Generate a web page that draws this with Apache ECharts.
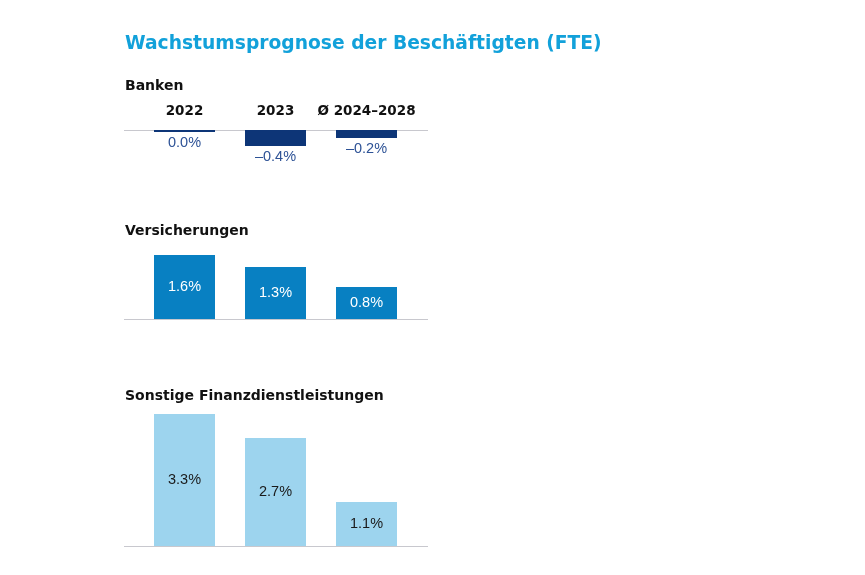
<!DOCTYPE html>
<html>
<head>
<meta charset="utf-8">
<script src="https://cdn.jsdelivr.net/npm/echarts@6/dist/echarts.min.js"></script>
<style>
  html, body { margin: 0; padding: 0; background: #fff; }
  #main { width: 865px; height: 575px; }
</style>
</head>
<body>
<div id="main"></div>
<script>
// Kategorien und Werte (Wachstum FTE in %)
const categories = ['2022', '2023', 'Ø 2024–2028'];
const banken = [-0.04, -0.4, -0.2];
const versicherungen = [1.6, 1.3, 0.8];
const sonstige = [3.3, 2.7, 1.1];

const FONT = '"Liberation Sans", Arial, sans-serif';
const HEAD = '"DejaVu Sans", Arial, sans-serif';
const PX = 40; // Pixel pro Prozentpunkt

function fmt(v) {
    const r = Math.round(v * 10) / 10;
    return (r < 0 ? '–' : '') + Math.abs(r).toFixed(1) + '%';
}

// Panels: Grid-Lage aus Basislinie und Wertebereich
const panels = [
    {name: 'Banken', data: banken, min: -0.4, max: 0, base: 130, color: '#0d3577',
        label: {position: 'bottom', distance: 3, color: '#2d5296'}},
    {name: 'Versicherungen', data: versicherungen, min: 0, max: 1.6, base: 319, color: '#0880c2',
        label: {position: 'inside', color: '#ffffff'}},
    {name: 'Sonstige Finanzdienstleistungen', data: sonstige, min: 0, max: 3.3, base: 546, color: '#9dd4ee',
        label: {position: 'inside', color: '#1a1a1a'}}
];
const titleTops = [74, 219, 384];

const grid = [], xAxis = [], yAxis = [], series = [], graphic = [];
const title = [{
    text: 'Wachstumsprognose der Beschäftigten (FTE)',
    left: 120, top: 30,
    textStyle: {fontFamily: HEAD, fontSize: 18.7, fontWeight: 'bold', color: '#12a1da'}
}];

panels.forEach((p, i) => {
    const h = (p.max - p.min) * PX;
    const top = p.min < 0 ? p.base : p.base - h;
    grid.push({left: 139, width: 273, top: top, height: h});
    xAxis.push({
        type: 'category', gridIndex: i, data: categories,
        position: 'top',
        axisLine: {show: false}, axisTick: {show: false},
        axisLabel: {
            show: i === 0, interval: 0, hideOverlap: false, margin: 12,
            fontFamily: HEAD, fontSize: 13.5, fontWeight: 'bold', color: '#111'
        }
    });
    yAxis.push({
        type: 'value', gridIndex: i, min: p.min, max: p.max, show: false,
        splitLine: {show: false}
    });
    series.push({
        type: 'bar', xAxisIndex: i, yAxisIndex: i,
        data: p.data, barWidth: 61, barMinHeight: 2,
        itemStyle: {color: p.color},
        label: Object.assign({
            show: true, fontFamily: FONT, fontSize: 14.5,
            formatter: (d) => fmt(d.value)
        }, p.label),
        silent: true
    });
    title.push({
        text: p.name, left: 120, top: titleTops[i],
        textStyle: {fontFamily: HEAD, fontSize: 14, fontWeight: 'bold', color: '#111'}
    });
    graphic.push({
        type: 'line', z: 0,
        shape: {x1: 124, y1: p.base + 0.5, x2: 428, y2: p.base + 0.5},
        style: {stroke: '#c8c8ce', lineWidth: 1}
    });
});

const chart = echarts.init(document.getElementById('main'));
chart.setOption({
    animation: false,
    backgroundColor: '#fff',
    title: title,
    grid: grid,
    xAxis: xAxis,
    yAxis: yAxis,
    series: series,
    graphic: graphic
});
</script>
</body>
</html>
